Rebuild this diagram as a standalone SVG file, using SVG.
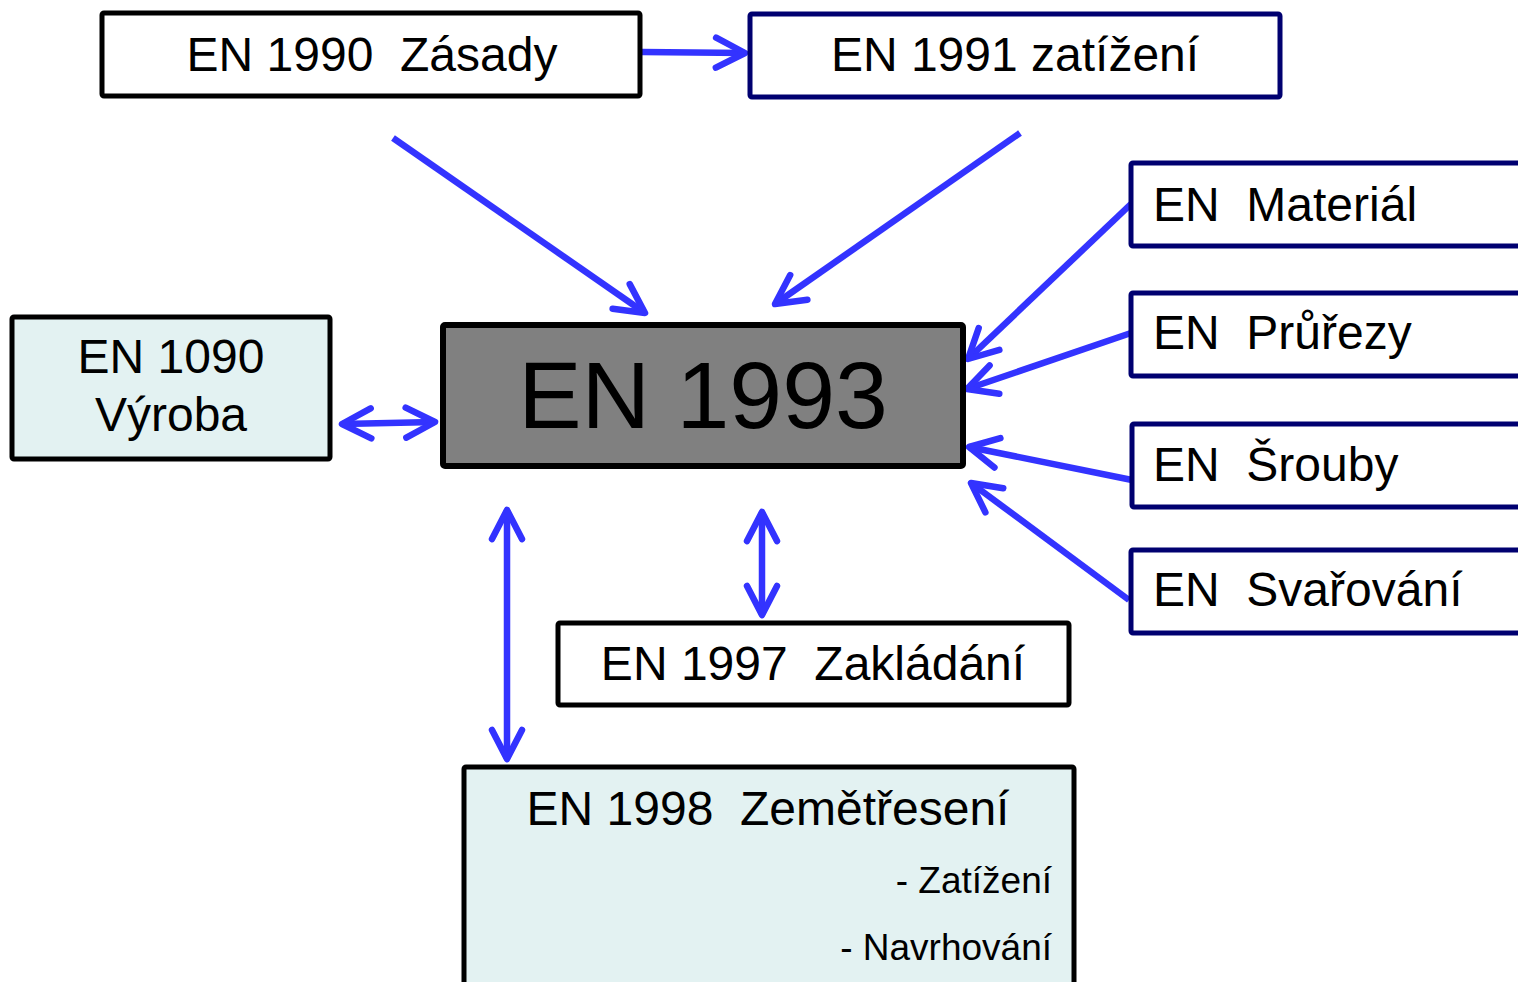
<svg xmlns="http://www.w3.org/2000/svg" width="1518" height="982" viewBox="0 0 1518 982">
<defs>
<style>
text{font-family:"Liberation Sans",Arial,sans-serif;fill:#000;white-space:pre}
.t{font-size:48px}
.c{text-anchor:middle}
.e{text-anchor:end}
.s{font-size:37px}
.bk{fill:#fff;stroke:#000;stroke-width:5}
.nv{fill:#fff;stroke:#000070;stroke-width:5}
.lt{fill:#E3F2F2;stroke:#000;stroke-width:5}
.gr{fill:#808080;stroke:#000;stroke-width:6}
.ar{fill:none;stroke:#3333FF;stroke-width:6.5;marker-end:url(#ah)}
.dbl{marker-start:url(#ah)}
</style>
<marker id="ah" markerUnits="userSpaceOnUse" viewBox="-36 -21 42 42" markerWidth="42" markerHeight="42" refX="0" refY="0" orient="auto-start-reverse">
<path d="M-29,-15 L0,0 L-29,15" fill="none" stroke="#3333FF" stroke-width="6.5" stroke-linecap="round" stroke-linejoin="round"/>
</marker>
</defs>
<g id="connectors">
<path class="ar" d="M642,52 L745,53"/>
<path class="ar" d="M393,138 L645,313"/>
<path class="ar" d="M1020,133 L775,304"/>
<path class="ar" d="M1131,204 L968,359"/>
<path class="ar" d="M1131,333 L967,389"/>
<path class="ar" d="M1132,480 L969,447"/>
<path class="ar" d="M1129,600 L971,483"/>
<path class="ar dbl" d="M342,424 L435,422"/>
<path class="ar dbl" d="M507,510 L507,759"/>
<path class="ar dbl" d="M762,512 L762,615"/>
</g>
<g id="n1990"><rect class="bk" x="102" y="13" width="538" height="83" rx="2"/><text class="t c" x="372" y="71">EN 1990  Zásady</text></g>
<g id="n1991"><rect class="nv" x="750" y="14" width="530" height="83" rx="2"/><text class="t c" x="1015" y="71">EN 1991 zatížení</text></g>
<g id="nMaterial"><rect class="nv" x="1131" y="163" width="400" height="83" rx="2"/><text class="t" x="1153" y="221">EN  Materiál</text></g>
<g id="nPrurezy"><rect class="nv" x="1131" y="293" width="400" height="83" rx="2"/><text class="t" x="1153" y="349">EN  Průřezy</text></g>
<g id="nSrouby"><rect class="nv" x="1132" y="424" width="400" height="83" rx="2"/><text class="t" x="1153" y="481">EN  Šrouby</text></g>
<g id="nSvarovani"><rect class="nv" x="1131" y="550" width="400" height="83" rx="2"/><text class="t" x="1153" y="606">EN  Svařování</text></g>
<g id="n1993"><rect class="gr" x="443" y="325" width="520" height="141" rx="2"/><text class="c" x="703" y="428" font-size="95">EN 1993</text></g>
<g id="n1090"><rect class="lt" x="12" y="317" width="318" height="142" rx="2"/><text class="t c" x="171" y="373">EN 1090</text><text class="t c" x="171" y="431">Výroba</text></g>
<g id="n1997"><rect class="bk" x="558" y="623" width="511" height="82" rx="2"/><text class="t c" x="813" y="680">EN 1997  Zakládání</text></g>
<g id="n1998"><rect class="lt" x="464" y="767" width="610" height="225" rx="2"/><text class="t c" x="768" y="825">EN 1998  Zemětřesení</text><text class="s e" x="1052" y="893">- Zatížení</text><text class="s e" x="1052" y="960">- Navrhování</text></g>
</svg>
